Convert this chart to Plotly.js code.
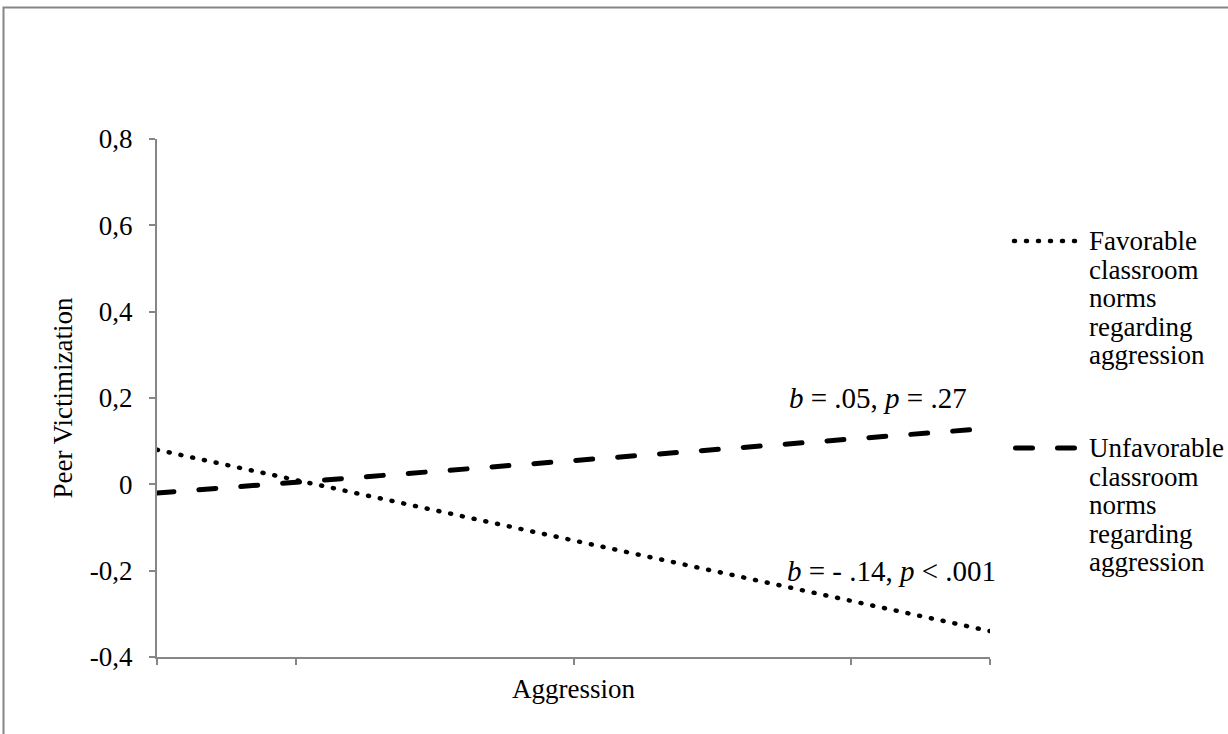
<!DOCTYPE html>
<html>
<head>
<meta charset="utf-8">
<script src="https://cdn.plot.ly/plotly-3.0.1.min.js"></script>
<style>
  html, body { margin: 0; padding: 0; background: #fff; }
  #chart { width: 1228px; height: 734px; }
  .js-line { stroke-linecap: round; }
  .shapelayer path { stroke-linecap: round; }
</style>
</head>
<body>
<div id="chart"></div>
<script>
// ---- data ----
const aggression = [-1.5, 1.5];                 // x (SD units, low to high)
const favorable = [0.08, -0.34];                // Favorable classroom norms
const unfavorable = [-0.02, 0.13];              // Unfavorable classroom norms
const yTickVals = [-0.4, -0.2, 0, 0.2, 0.4, 0.6, 0.8];
const yTickText = ['-0,4', '-0,2', '0', '0,2', '0,4', '0,6', '0,8'];
const xTickVals = [-1.5, -1, 0, 1, 1.5];
const seriesNames = ['Favorable classroom norms regarding aggression',
                     'Unfavorable classroom norms regarding aggression'];
const legendLines = [
  ['Favorable', 'classroom', 'norms', 'regarding', 'aggression'],
  ['Unfavorable', 'classroom', 'norms', 'regarding', 'aggression']
];
const slopeLabels = ['<i>b</i> = .05, <i>p</i> = .27', '<i>b</i> = - .14, <i>p</i> &lt; .001'];
const slopeLabelX = [0.77, 0.76];
const slopeLabelY = [0.2, -0.2];

// ---- layout helpers ----
const W = 1228, H = 734;
const M = {l: 157, r: 238, t: 139, b: 77};
const PW = W - M.l - M.r, PH = H - M.t - M.b;
const px = x => (x - M.l) / PW;
const py = y => (H - M.b - y) / PH;

const FONT = 'Liberation Serif, Times New Roman, serif';
const AXIS = '#868686';
const DOT = '1px,11px';
const DASH = '17px,25px';
const FS = 27;

const traces = [
  {x: aggression, y: favorable, name: seriesNames[0], mode: 'lines',
   line: {color: '#000', width: 4.5, dash: DOT}, showlegend: false, hoverinfo: 'skip'},
  {x: aggression, y: unfavorable, name: seriesNames[1], mode: 'lines',
   line: {color: '#000', width: 5, dash: DASH}, showlegend: false, hoverinfo: 'skip'}
];

const annotations = [];
slopeLabels.forEach((t, i) => annotations.push({
  text: t, xref: 'x', yref: 'y', x: slopeLabelX[i], y: slopeLabelY[i],
  xanchor: 'left', yanchor: 'middle', showarrow: false,
  font: {family: FONT, size: 29, color: '#000'}
}));
const legendTop = [241, 448];
const legendStep = 28.6;
legendLines.forEach((lines, k) => lines.forEach((t, j) => annotations.push({
  text: t, xref: 'paper', yref: 'paper', x: px(1087), y: py(legendTop[k] + j * legendStep),
  xanchor: 'left', yanchor: 'middle', showarrow: false,
  font: {family: FONT, size: FS, color: '#000'}
})));

const shapes = [
  // outer frame (top and left edges)
  {type: 'path', xref: 'paper', yref: 'paper',
   path: `M${px(3.5)},${py(740)} L${px(3.5)},${py(7.5)} L${px(1240)},${py(7.5)}`,
   line: {color: AXIS, width: 2}},
  // legend samples
  {type: 'line', xref: 'paper', yref: 'paper', x0: px(1014), x1: px(1078),
   y0: py(legendTop[0]), y1: py(legendTop[0]), line: {color: '#000', width: 4.5, dash: DOT}},
  {type: 'line', xref: 'paper', yref: 'paper', x0: px(1015.5), x1: px(1076),
   y0: py(legendTop[1]), y1: py(legendTop[1]), line: {color: '#000', width: 5, dash: DASH}}
];

const layout = {
  width: W, height: H,
  margin: M,
  paper_bgcolor: '#fff', plot_bgcolor: '#fff',
  font: {family: FONT, size: FS, color: '#000'},
  showlegend: false,
  xaxis: {
    range: [-1.5, 1.5], showgrid: false, zeroline: false,
    showline: true, linecolor: AXIS, linewidth: 2,
    ticks: 'outside', ticklen: 6, tickwidth: 2, tickcolor: AXIS,
    tickmode: 'array', tickvals: xTickVals, showticklabels: false,
    title: {text: 'Aggression', font: {family: FONT, size: FS, color: '#000'}, standoff: 15}
  },
  yaxis: {
    range: [-0.4, 0.8], showgrid: false, zeroline: false,
    showline: true, linecolor: AXIS, linewidth: 2,
    ticks: 'outside', ticklen: 6, tickwidth: 2, tickcolor: AXIS,
    tickmode: 'array', tickvals: yTickVals, ticktext: yTickText,
    tickfont: {family: FONT, size: FS, color: '#000'},
    ticklabelstandoff: 11,
    title: {text: 'Peer Victimization', font: {family: FONT, size: FS, color: '#000'}, standoff: 9}
  },
  annotations: annotations,
  shapes: shapes
};

Plotly.newPlot('chart', traces, layout, {staticPlot: true, displayModeBar: false});
</script>
</body>
</html>
